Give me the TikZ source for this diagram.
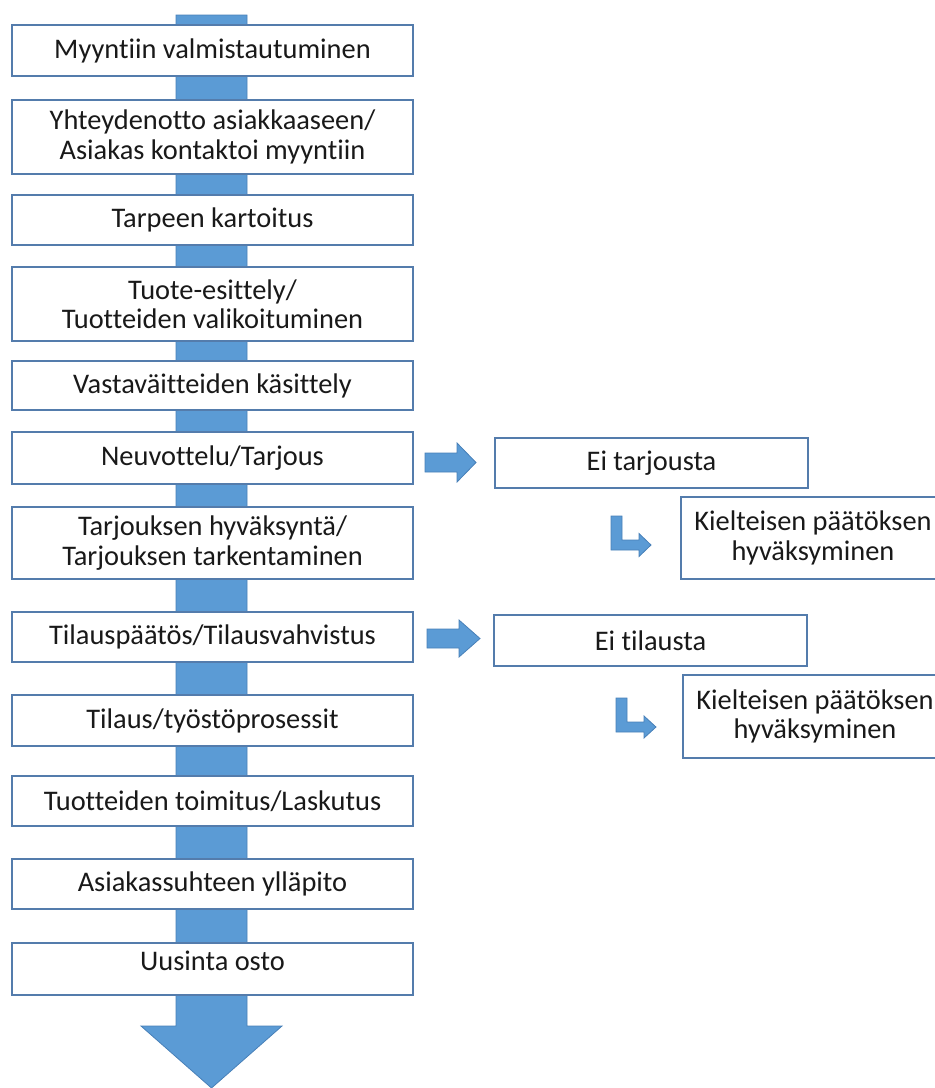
\documentclass[tikz,border=0pt]{standalone}
\usepackage{fontspec}
\setmainfont{Carlito}[Ligatures=NoCommon]
\definecolor{boxline}{RGB}{84,124,172}
\definecolor{arrowfill}{RGB}{91,155,213}
\definecolor{arrowline}{RGB}{72,128,184}
\definecolor{ink}{RGB}{25,25,25}
\begin{document}
\begin{tikzpicture}[x=1pt,y=-1pt,
  box/.style={draw=boxline, line width=1.2pt, fill=white, inner sep=0pt,
    align=center, text=ink, font=\fontsize{28.4}{29.5}\selectfont},
  mainbox/.style={box, minimum width=401pt},
  sidebox/.style={box, minimum width=313pt},
  notebox/.style={box, minimum width=264pt},
  blockarrow/.style={fill=arrowfill, draw=arrowline, line width=0.8pt, line join=miter}]
\clip (0,0) rectangle (935,1088);

% main flow arrow running behind the step boxes
\draw[blockarrow] (176,15) -- (247,15) -- (247,1026) -- (282,1026)
  -- (211.5,1088) -- (141,1026) -- (176,1026) -- cycle;

% process steps
\node[mainbox, minimum height=51pt] (b1)  at (212.5,50.5)  {Myyntiin valmistautuminen};
\node[mainbox, minimum height=74pt] (b2)  at (212.5,137)   {Yhteydenotto asiakkaaseen/\\Asiakas kontaktoi myyntiin};
\node[mainbox, minimum height=50pt] (b3)  at (212.5,220)   {Tarpeen kartoitus};
\node[mainbox, minimum height=74pt] (b4)  at (212.5,304)   {Tuote-esittely/\\Tuotteiden valikoituminen};
\node[mainbox, minimum height=49pt] (b5)  at (212.5,385.5) {Vastaväitteiden käsittely};
\node[mainbox, minimum height=52pt] (b6)  at (212.5,458)   {Neuvottelu/Tarjous};
\node[mainbox, minimum height=72pt] (b7)  at (212.5,543)   {Tarjouksen hyväksyntä/\\Tarjouksen tarkentaminen};
\node[mainbox, minimum height=50pt] (b8)  at (212.5,637)   {Tilauspäätös/Tilausvahvistus};
\node[mainbox, minimum height=51pt] (b9)  at (212.5,720.5) {Tilaus/työstöprosessit};
\node[mainbox, minimum height=50pt] (b10) at (212.5,801)   {Tuotteiden toimitus/Laskutus};
\node[mainbox, minimum height=50pt] (b11) at (212.5,884)   {Asiakassuhteen ylläpito};
\node[mainbox, minimum height=52pt, text depth=17pt] (b12) at (212.5,969) {Uusinta osto};

% negative outcomes
\node[sidebox, minimum height=50pt] (n1) at (651.5,463)   {Ei tarjousta};
\node[notebox, minimum height=82pt] (k1) at (813,538)     {Kielteisen päätöksen\\hyväksyminen};
\node[sidebox, minimum height=51pt] (n2) at (650.5,640.5) {Ei tilausta};
\node[notebox, minimum height=83pt] (k2) at (815,716.5)   {Kielteisen päätöksen\\hyväksyminen};

% side arrows
\draw[blockarrow] (425,453) -- (457,453) -- (457,443) -- (476,462.5)
  -- (457,482) -- (457,472) -- (425,472) -- cycle;
\draw[blockarrow] (427,629) -- (459,629) -- (459,620) -- (480,638.5)
  -- (459,657) -- (459,648) -- (427,648) -- cycle;

% bent arrows
\draw[blockarrow] (611,516) -- (622,516) -- (622,540) -- (639,540) -- (639,533.5)
  -- (651,545) -- (639,556.5) -- (639,550) -- (611,550) -- cycle;
\draw[blockarrow] (616,698) -- (627,698) -- (627,722) -- (644,722) -- (644,716)
  -- (656,727) -- (644,738) -- (644,732) -- (616,732) -- cycle;
\end{tikzpicture}
\end{document}
